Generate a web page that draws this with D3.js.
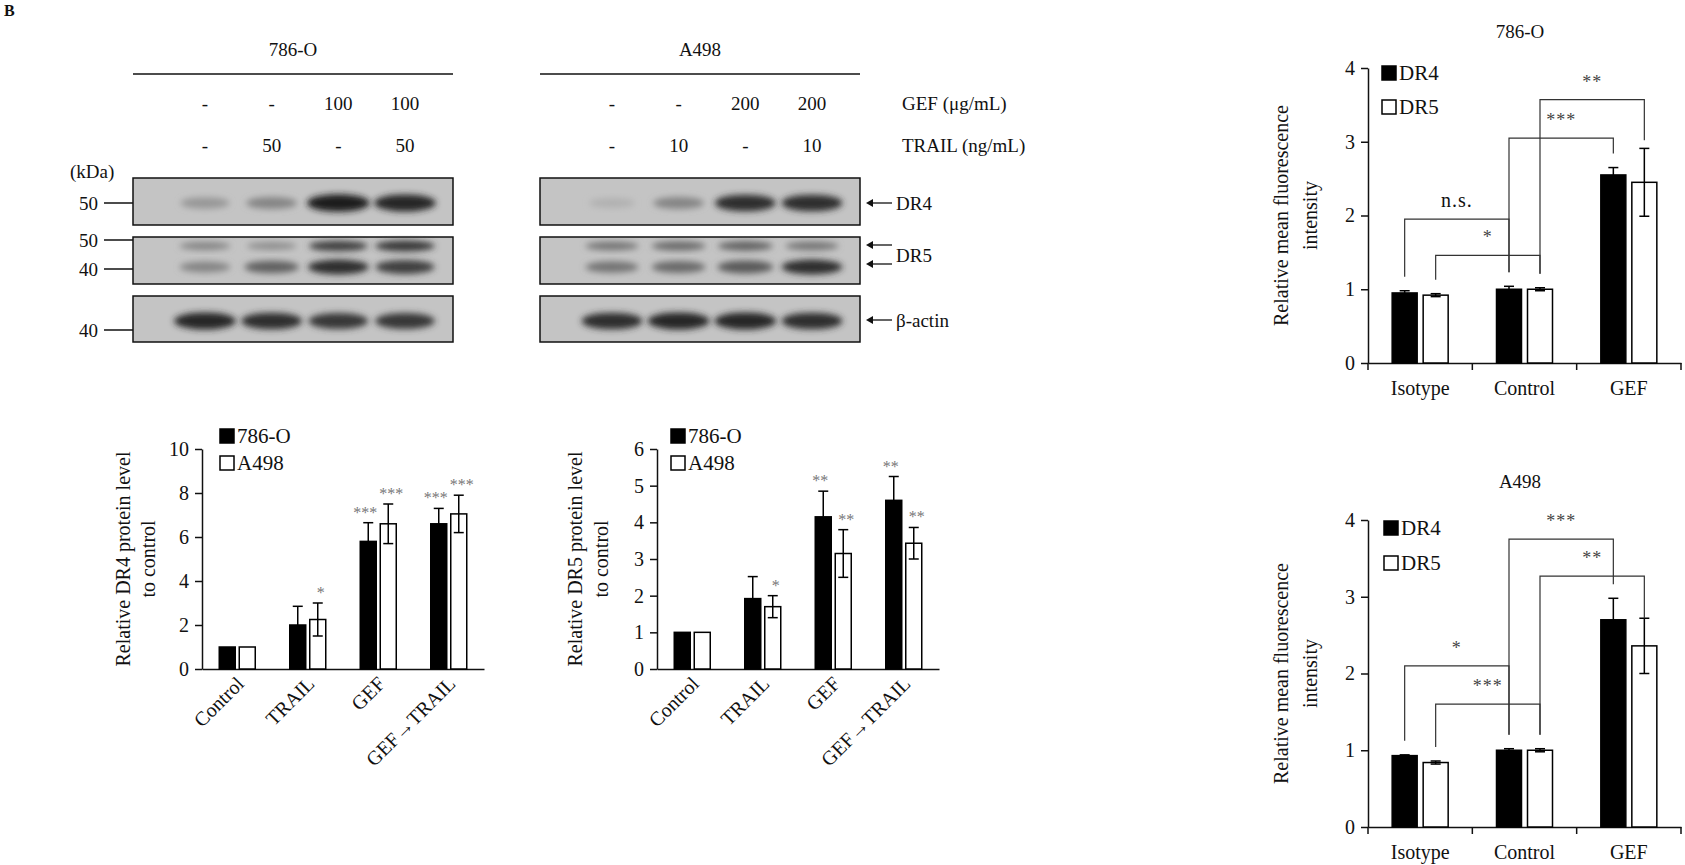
<!DOCTYPE html>
<html><head><meta charset="utf-8">
<script src="https://cdn.jsdelivr.net/npm/d3@7"></script>
<style>body{margin:0;background:#fff}text{font-family:"Liberation Serif","Times New Roman",serif;fill:#111}</style>
</head><body>
<svg id="fig" width="1685" height="865"></svg>
<script>
// western blot lanes and treatments
var cells = ["786-O", "A498"];
var gefDose = [["-","-","100","100"],["-","-","200","200"]];
var trailDose = [["-","50","-","50"],["-","10","-","10"]];
// band darkness (0..1) per lane
var dr4Bands = [[0.25,0.35,0.95,0.9],[0.1,0.35,0.85,0.85]];
var dr5Upper = [[0.35,0.3,0.75,0.8],[0.45,0.5,0.55,0.45]];
var dr5Lower = [[0.35,0.55,0.85,0.75],[0.45,0.5,0.6,0.85]];
var actinBands = [[0.9,0.85,0.8,0.8],[0.85,0.9,0.9,0.85]];

// quantification
var groups = ["Control","TRAIL","GEF","GEF→TRAIL"];
var dr4_786 = [1, 2.0, 5.8, 6.6], dr4_786_err = [0, 0.85, 0.85, 0.7];
var dr4_a498 = [1, 2.25, 6.6, 7.05], dr4_a498_err = [0, 0.75, 0.9, 0.85];
var dr4_786_sig = ["", "", "***", "***"], dr4_a498_sig = ["", "*", "***", "***"];
var dr5_786 = [1, 1.92, 4.15, 4.6], dr5_786_err = [0, 0.6, 0.7, 0.65];
var dr5_a498 = [1, 1.7, 3.15, 3.43], dr5_a498_err = [0, 0.3, 0.65, 0.43];
var dr5_786_sig = ["", "", "**", "**"], dr5_a498_sig = ["", "*", "**", "**"];

// flow cytometry
var flowGroups = ["Isotype","Control","GEF"];
var f786_dr4 = [0.95, 1.0, 2.55], f786_dr4_err = [0.03, 0.04, 0.1];
var f786_dr5 = [0.92, 1.0, 2.45], f786_dr5_err = [0.02, 0.02, 0.46];
var fa498_dr4 = [0.93, 1.0, 2.7], fa498_dr4_err = [0.01, 0.02, 0.28];
var fa498_dr5 = [0.84, 1.0, 2.36], fa498_dr5_err = [0.02, 0.02, 0.36];
// brackets: [from group, series, to group, series, level, label]
var f786_brackets = [[0,0,1,0,1.95,"n.s."],[0,1,1,1,1.46,"*"],[1,0,2,0,3.05,"***"],[1,1,2,1,3.57,"**"]];
var fa498_brackets = [[0,0,1,0,2.1,"*"],[0,1,1,1,1.6,"***"],[1,0,2,0,3.75,"***"],[1,1,2,1,3.27,"**"]];

var svg = d3.select("#fig");
var defs = svg.append("defs");
defs.append("filter").attr("id","blur").attr("x","-50%").attr("y","-50%").attr("width","200%").attr("height","200%")
	.append("feGaussianBlur").attr("stdDeviation", 3);

svg.append("text").attr("x",4).attr("y",16).style("font-weight","bold").style("font-size","16px").text("B");

// ---------- blots ----------
var panelX = [133, 540];
var laneScale = d3.scalePoint().domain([0,1,2,3]).range([72, 272]);
var gray = d3.scaleLinear().domain([0,1]).range(["#c2c2c2","#141414"]);

function blot(g, y, h, bands){
	var b = g.append("g");
	b.append("rect").attr("x",0).attr("y",y).attr("width",320).attr("height",h)
		.attr("fill","#c4c4c4").attr("stroke","#111").attr("stroke-width",1.5);
	bands.forEach(function(row){
		b.selectAll(null).data(row.vals).enter().append("ellipse")
			.attr("cx", function(d,i){ return laneScale(i); })
			.attr("cy", row.y)
			.attr("rx", function(d){ return 22 + d*10; })
			.attr("ry", function(d){ return row.h*(0.5+d*0.5); })
			.attr("fill", function(d){ return gray(d); })
			.attr("filter","url(#blur)");
	});
}

cells.forEach(function(c, k){
	var g = svg.append("g").attr("transform","translate("+panelX[k]+",0)");
	g.append("text").attr("x",160).attr("y",56).attr("text-anchor","middle").style("font-size","19px").text(c);
	g.append("line").attr("x1",0).attr("x2",320).attr("y1",74).attr("y2",74).attr("stroke","#111").attr("stroke-width",1.5);
	g.selectAll(null).data(gefDose[k]).enter().append("text")
		.attr("x",function(d,i){ return laneScale(i); }).attr("y",110).attr("text-anchor","middle").style("font-size","19px").text(function(d){return d;});
	g.selectAll(null).data(trailDose[k]).enter().append("text")
		.attr("x",function(d,i){ return laneScale(i); }).attr("y",152).attr("text-anchor","middle").style("font-size","19px").text(function(d){return d;});
	blot(g, 178, 47, [{y:203, h:9, vals:dr4Bands[k]}]);
	blot(g, 237, 47, [{y:246, h:6, vals:dr5Upper[k]},{y:267, h:8, vals:dr5Lower[k]}]);
	blot(g, 296, 46, [{y:321, h:9, vals:actinBands[k]}]);
});

svg.append("text").attr("x",902).attr("y",110).style("font-size","19px").text("GEF (μg/mL)");
svg.append("text").attr("x",902).attr("y",152).style("font-size","19px").text("TRAIL (ng/mL)");
svg.append("text").attr("x",70).attr("y",178).style("font-size","19px").text("(kDa)");
[[203,"50"],[240,"50"],[269,"40"],[330,"40"]].forEach(function(m){
	svg.append("text").attr("x",98).attr("y",m[0]+7).attr("text-anchor","end").style("font-size","19px").text(m[1]);
	svg.append("line").attr("x1",104).attr("x2",133).attr("y1",m[0]).attr("y2",m[0]).attr("stroke","#111").attr("stroke-width",1.5);
});
function arrow(y){
	svg.append("line").attr("x1",868).attr("x2",892).attr("y1",y).attr("y2",y).attr("stroke","#111").attr("stroke-width",1.3);
	svg.append("path").attr("d","M866,"+y+"l7,-4v8z").attr("fill","#111");
}
arrow(203); arrow(245); arrow(264); arrow(320);
svg.append("text").attr("x",896).attr("y",210).style("font-size","19px").text("DR4");
svg.append("text").attr("x",896).attr("y",262).style("font-size","19px").text("DR5");
svg.append("text").attr("x",896).attr("y",327).style("font-size","19px").text("β-actin");

// ---------- grouped bar chart helper ----------
function barChart(o){
	var g = svg.append("g");
	var x = d3.scaleBand().domain(o.cats).range([o.x0, o.x1]);
	var y = d3.scaleLinear().domain([0, o.ymax]).range([o.yb, o.yt]);
	var gap = o.gap, bw = o.bw;
	g.append("g").attr("transform","translate("+o.x0+",0)")
		.call(d3.axisLeft(y).ticks(o.ticks).tickSize(7).tickSizeOuter(0).tickPadding(6))
		.call(function(a){ a.selectAll("text").style("font-size","20px").attr("font-family",null); a.selectAll("line,path").attr("stroke","#111").attr("stroke-width",1.5); });
	var xa = g.append("g").attr("transform","translate(0,"+o.yb+")")
		.call(d3.axisBottom(x).tickSize(0).tickFormat(""));
	xa.select("path").attr("stroke","#111").attr("stroke-width",1.5);
	if(o.xticks){
		g.selectAll(null).data(d3.range(o.cats.length+1)).enter().append("line")
			.attr("x1",function(i){ return o.x0 + i*x.step(); }).attr("x2",function(i){ return o.x0 + i*x.step(); })
			.attr("y1",o.yb).attr("y2",o.yb+7).attr("stroke","#111").attr("stroke-width",1.5);
	}
	function bx(i, s){ return x(o.cats[i]) + x.bandwidth()/2 + (s==0 ? -gap/2-bw : gap/2); }
	o.series.forEach(function(sr, s){
		var sg = g.append("g");
		sg.selectAll("rect").data(sr.vals).enter().append("rect")
			.attr("x",function(d,i){ return bx(i,s); }).attr("width",bw)
			.attr("y",function(d){ return y(d); }).attr("height",function(d){ return o.yb - y(d); })
			.attr("fill", s==0 ? "#000" : "#fff").attr("stroke","#000").attr("stroke-width",1.5);
		sr.vals.forEach(function(v,i){
			var e = sr.err[i]; if(!e) return;
			var cx = bx(i,s)+bw/2;
			sg.append("line").attr("x1",cx).attr("x2",cx).attr("y1",y(v+e)).attr("y2",y(Math.max(v-e, s==0?v:0))).attr("stroke","#000").attr("stroke-width",1.5);
			sg.append("line").attr("x1",cx-5).attr("x2",cx+5).attr("y1",y(v+e)).attr("y2",y(v+e)).attr("stroke","#000").attr("stroke-width",1.5);
			if(s==1) sg.append("line").attr("x1",cx-5).attr("x2",cx+5).attr("y1",y(v-e)).attr("y2",y(v-e)).attr("stroke","#000").attr("stroke-width",1.5);
			if(sr.sig && sr.sig[i]) sg.append("text").attr("x",cx + (s==0 ? -3 : 3)).attr("y",y(v+e)-5).attr("text-anchor","middle")
				.style("font-size","16px").style("fill","#777").text(sr.sig[i]);
		});
	});
	// legend
	o.series.forEach(function(sr, s){
		var ly = o.legY + s*o.legGap;
		g.append("rect").attr("x",o.legX).attr("y",ly-14).attr("width",14).attr("height",14)
			.attr("fill", s==0?"#000":"#fff").attr("stroke","#000").attr("stroke-width",1.5);
		g.append("text").attr("x",o.legX+17).attr("y",ly).style("font-size","21px").text(sr.name);
	});
	// y title (baseline of first line at x0 - titleOff)
	var tx = o.x0 - o.titleOff, ty = (o.yt+o.yb)/2;
	var t = g.append("text").attr("transform","translate("+tx+","+ty+") rotate(-90)").attr("text-anchor","middle").style("font-size","20px");
	o.title.forEach(function(line, i){ t.append("tspan").attr("x",0).attr("dy", i==0?0:o.lineGap).text(line); });
	// x labels
	if(o.rotate){
		g.selectAll(null).data(o.cats).enter().append("text")
			.attr("transform",function(d){ return "translate("+(x(d)+x.bandwidth()/2+8)+","+(o.yb+16)+") rotate(-45)"; })
			.attr("text-anchor","end").style("font-size","20px").text(function(d){ return d; });
	} else {
		g.selectAll(null).data(o.cats).enter().append("text")
			.attr("x",function(d){ return x(d)+x.bandwidth()/2; }).attr("y",o.yb+32)
			.attr("text-anchor","middle").style("font-size","20px").text(function(d){ return d; });
	}
	if(o.label) g.append("text").attr("x",o.labelX).attr("y",o.labelY).attr("text-anchor","middle").style("font-size","19px").text(o.label);
	if(o.brackets){
		o.brackets.forEach(function(b){
			var xa1 = bx(b[0],b[1])+bw/2, xb1 = bx(b[2],b[3])+bw/2;
			var va = o.series[b[1]].vals[b[0]] + o.series[b[1]].err[b[0]];
			var vb = o.series[b[3]].vals[b[2]] + o.series[b[3]].err[b[2]];
			var ya = y(va)-14, yb2 = y(vb)-14, yl = y(b[4]);
			if(b[2]==2 && b[1]==1) yb2 = y(b[4]-0.55);
			g.append("path").attr("d","M"+xa1+","+ya+"V"+yl+"H"+xb1+"V"+yb2)
				.attr("fill","none").attr("stroke","#333").attr("stroke-width",1.2);
			g.append("text").attr("x",(xa1+xb1)/2).attr("y",yl-12).attr("text-anchor","middle")
				.style("font-size", b[5]=="n.s."?"20px":"18px").style("letter-spacing","1px").style("fill", b[5]=="n.s."?"#111":"#444").text(b[5]);
		});
	}
}

barChart({cats:groups, x0:202, x1:484, yt:449, yb:669, ymax:10, ticks:5, bw:16, gap:4, rotate:true,
	series:[{name:"786-O", vals:dr4_786, err:dr4_786_err, sig:dr4_786_sig},{name:"A498", vals:dr4_a498, err:dr4_a498_err, sig:dr4_a498_sig}],
	legX:220, legY:443, legGap:27, title:["Relative  DR4 protein level","to control"], titleOff:72, lineGap:25});
barChart({cats:groups, x0:657, x1:939, yt:449, yb:669, ymax:6, ticks:6, bw:16, gap:4, rotate:true,
	series:[{name:"786-O", vals:dr5_786, err:dr5_786_err, sig:dr5_786_sig},{name:"A498", vals:dr5_a498, err:dr5_a498_err, sig:dr5_a498_sig}],
	legX:671, legY:443, legGap:27, title:["Relative  DR5 protein level","to control"], titleOff:75, lineGap:26});
barChart({cats:flowGroups, x0:1368, x1:1681, yt:68, yb:363, ymax:4, ticks:4, bw:25, gap:6, xticks:true,
	series:[{name:"DR4", vals:f786_dr4, err:f786_dr4_err},{name:"DR5", vals:f786_dr5, err:f786_dr5_err}],
	legX:1382, legY:80, legGap:34, title:["Relative  mean fluorescence","intensity"], titleOff:80, lineGap:29,
	label:"786-O", labelX:1520, labelY:38, brackets:f786_brackets});
barChart({cats:flowGroups, x0:1368, x1:1681, yt:520, yb:827, ymax:4, ticks:4, bw:25, gap:6, xticks:true,
	series:[{name:"DR4", vals:fa498_dr4, err:fa498_dr4_err},{name:"DR5", vals:fa498_dr5, err:fa498_dr5_err}],
	legX:1384, legY:535, legGap:35, title:["Relative  mean fluorescence","intensity"], titleOff:80, lineGap:29,
	label:"A498", labelX:1520, labelY:488, brackets:fa498_brackets});
</script>
</body></html>
